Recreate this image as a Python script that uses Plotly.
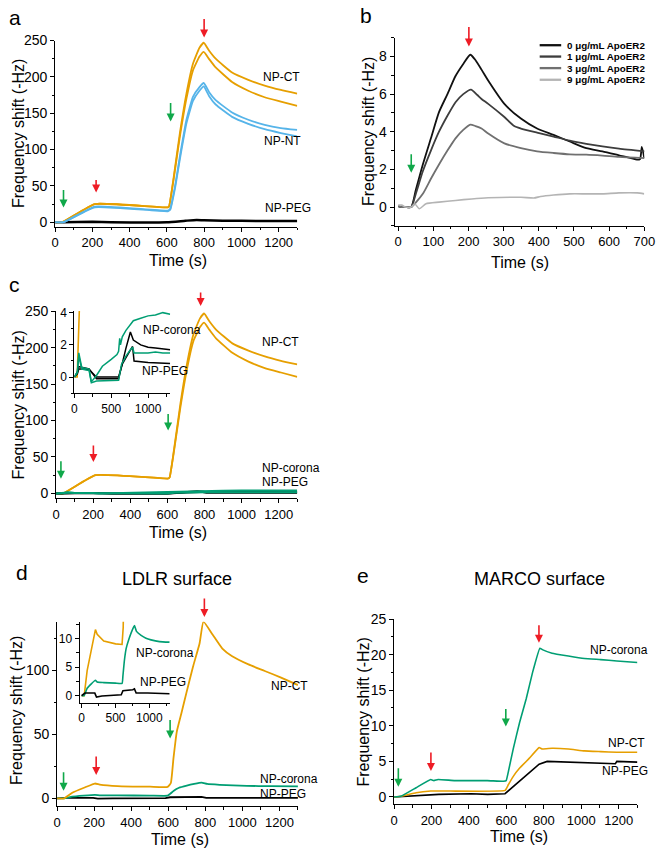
import plotly.graph_objects as go

W, H = 667, 852
FONT = "Liberation Sans, Arial, sans-serif"


def px(x):
    return x / W


def py(y):
    return 1 - y / H


ORANGE = "#E69F00"
GREEN = "#009E73"
BLUE = "#56B4E9"
ARROW_RED = "#ee1c25"
ARROW_GREEN = "#10a84a"

# ---------------- data ----------------
# Panel a / c : NP-CT (two replicates)
ct_time = [0, 38, 213, 605, 612, 635, 670, 705, 740, 775, 798, 827, 862, 950, 1037, 1125, 1212, 1300]
ct_rep1 = [0, 0, 25, 20.5, 22, 59, 123, 177, 218, 240, 247, 236, 225, 206, 196, 188, 182, 177]
ct_rep2 = [0, 0, 25, 20.5, 22, 57, 118, 170, 209, 228, 234.5, 224.5, 213, 193, 181, 172, 166, 160]
# Panel a : NP-NT (two replicates)
nt_time = [0, 45, 213, 605, 618, 644, 670, 705, 740, 775, 798, 827, 862, 950, 1037, 1125, 1212, 1300]
nt_rep1 = [0, 0, 21.5, 16, 18.6, 50, 91, 141, 172.6, 186, 191.6, 179, 168, 151, 141, 134, 129.5, 127]
nt_rep2 = [0, 0, 20.5, 15, 17, 47, 87, 136, 167, 181, 187, 173.5, 162, 145, 135.4, 128, 122.7, 118]
# Panel a : NP-PEG
peg_a_time = [0, 40, 200, 300, 600, 700, 760, 800, 900, 1000, 1300]
peg_a = [0, 0, 0.5, 0, 0, 2, 3, 2.5, 2, 1.8, 1.5]

# Panel b : ApoER2 concentrations
b_t0 = [0, 10, 20, 37, 50, 70, 93, 116, 140, 163, 185, 205, 220, 237, 260, 302, 349, 395, 442, 488, 535, 581, 628, 679, 688, 693, 700]
b_v0 = [0.05, 0, 0, 0, 0.9, 2.26, 3.65, 5.04, 6.0, 6.96, 7.6, 8.09, 7.8, 7.3, 6.6, 5.48, 4.7, 4.17, 3.83, 3.48, 3.13, 2.96, 2.75, 2.52, 2.55, 3.2, 2.6]
b_t1 = [0, 10, 20, 37, 50, 70, 93, 116, 140, 163, 185, 207, 225, 237, 256, 302, 330, 349, 395, 442, 488, 535, 581, 628, 702]
b_v1 = [0.05, 0, 0, 0, 0.7, 1.9, 3.0, 4.0, 4.85, 5.57, 6.0, 6.24, 5.95, 5.74, 5.48, 4.78, 4.3, 4.17, 3.95, 3.74, 3.53, 3.36, 3.22, 3.1, 2.96]
b_t3 = [0, 10, 20, 37, 51, 70, 93, 116, 140, 163, 185, 205, 220, 237, 256, 302, 349, 395, 442, 488, 535, 581, 628, 702]
b_v3 = [0.05, 0, 0, 0, 0.26, 0.7, 1.5, 2.26, 3.0, 3.65, 4.1, 4.38, 4.3, 4.17, 3.9, 3.38, 3.13, 2.96, 2.87, 2.8, 2.78, 2.73, 2.66, 2.6]
b_t9 = [0, 10, 20, 37, 47, 60, 79, 116, 163, 209, 256, 349, 386, 405, 442, 488, 535, 581, 628, 680, 700]
b_v9 = [0.1, 0.1, 0, 0, 0.17, -0.09, 0.17, 0.26, 0.35, 0.43, 0.49, 0.52, 0.48, 0.56, 0.64, 0.7, 0.7, 0.7, 0.75, 0.75, 0.7]
b_names = ["0 μg/mL ApoER2", "1 μg/mL ApoER2", "3 μg/mL ApoER2", "9 μg/mL ApoER2"]
b_colors = ["#111111", "#3d3d3d", "#707070", "#b4b4b4"]

# Panel c : NP-corona and NP-PEG (two replicates each)
cor_c_t1 = [0, 40, 60, 100, 200, 230, 300, 380, 500, 578, 600, 615, 625, 650, 700, 760, 800, 900, 1000, 1100, 1200, 1300]
cor_c_v1 = [0, 0.3, 1.5, 0.6, 0.5, -0.3, 0.1, 0.67, 1.1, 1.4, 1.6, 2.4, 2.0, 2.5, 2.9, 3.3, 3.5, 3.65, 3.8, 3.85, 4.0, 3.9]
cor_c_t2 = [0, 40, 60, 100, 200, 230, 300, 500, 600, 640, 700, 760, 790, 810, 900, 1000, 1100, 1200, 1300]
cor_c_v2 = [0, 0.3, 1.3, 0.5, 0.4, -0.35, -0.25, -0.2, -0.2, 0.8, 1.3, 1.7, 1.85, 1.5, 1.5, 1.5, 1.55, 1.5, 1.5]
peg_c_t1 = [0, 40, 60, 100, 200, 250, 300, 600, 650, 700, 760, 800, 900, 1000, 1100, 1200, 1300]
peg_c_v1 = [0, 0.3, 0.65, 0.6, 0.5, 0.2, -0.1, -0.1, 0.9, 1.8, 2.8, 2.3, 2.0, 1.85, 1.8, 1.75, 1.7]
peg_c_t2 = [0, 40, 60, 100, 200, 250, 300, 600, 650, 700, 780, 790, 810, 900, 1000, 1300]
peg_c_v2 = [0, 0.2, 0.5, 0.5, 0.45, 0.2, 0, 0, 0.8, 1.2, 1.8, 1.9, 1.0, 0.95, 0.9, 0.85]

# Panel d : LDLR surface
ct_d_t = [0, 38, 82, 152, 204, 230, 327, 502, 597, 614, 628, 646, 672, 699, 734, 769, 790, 839, 892, 945, 1033, 1121, 1209, 1300]
ct_d_v = [0, 0, 4.4, 8.7, 11.6, 10.8, 9.6, 9.1, 9.0, 12, 31, 52, 67, 83, 103, 121, 138, 128, 117, 111, 104.6, 99.5, 94.3, 88.5]
cor_d_t = [0, 38, 82, 204, 230, 327, 500, 597, 610, 630, 658, 700, 740, 780, 810, 878, 950, 1024, 1150, 1300]
cor_d_v = [0, 0, 1.3, 2.7, 2.4, 2.3, 2.2, 2.15, 3.5, 6.0, 8.3, 10.0, 11.3, 12.3, 11.3, 10.6, 10.1, 9.8, 9.5, 9.4]
peg_d_t = [0, 49, 195, 220, 300, 585, 610, 700, 756, 780, 805, 976, 1150, 1300]
peg_d_v = [0, 0.46, 0.46, -0.23, -0.05, 0.17, 0.87, 0.95, 1.04, 1.2, 0.46, 0.46, 0.4, 0.35]

# Panel e : MARCO surface
cor_e_t = [0, 40, 118, 196, 213, 235, 325, 498, 585, 599, 611, 637, 671, 706, 740, 779, 792, 844, 931, 1017, 1104, 1190, 1300]
cor_e_v = [0, 0.14, 1.3, 2.45, 2.3, 2.45, 2.3, 2.3, 2.2, 2.3, 3.6, 6.8, 10.5, 13.8, 17.5, 20.9, 20.7, 20.2, 19.8, 19.45, 19.3, 19.1, 18.9]
ct_e_t = [0, 40, 118, 196, 300, 593, 611, 637, 671, 723, 775, 792, 844, 931, 1017, 1104, 1190, 1300]
ct_e_v = [0, 0.1, 0.6, 0.83, 0.83, 0.92, 1.75, 2.9, 4.06, 5.45, 6.93, 6.74, 6.84, 6.74, 6.47, 6.37, 6.28, 6.28]
peg_e_t = [0, 118, 204, 239, 412, 500, 593, 619, 671, 723, 775, 818, 931, 1017, 1104, 1182, 1190, 1300]
peg_e_v = [0, 0.14, 0.23, 0.37, 0.46, 0.37, 0.46, 1.06, 2.2, 3.37, 4.6, 5.0, 4.9, 4.76, 4.67, 4.67, 5.0, 4.9]

# ---------------- figure ----------------
fig = go.Figure()


def line(x, y, color, width, ax, smooth=0.0):
    ln = dict(color=color, width=width)
    if smooth:
        ln.update(shape="spline", smoothing=smooth)
    fig.add_trace(go.Scatter(
        x=x, y=y, mode="lines", line=ln,
        xaxis="x" + ax, yaxis="y" + ax, showlegend=False,
        hoverinfo="skip"))


# a
line(peg_a_time, peg_a, "black", 2.5, "", 0.5)
line(ct_time, ct_rep1, ORANGE, 1.8, "", 0.4)
line(ct_time, ct_rep2, ORANGE, 1.8, "", 0.4)
line(nt_time, nt_rep1, BLUE, 1.8, "", 0.4)
line(nt_time, nt_rep2, BLUE, 1.8, "", 0.4)

# b
for t, v, c, w in zip([b_t0, b_t1, b_t3, b_t9], [b_v0, b_v1, b_v3, b_v9], b_colors, [1.8, 1.8, 1.8, 1.6]):
    line(t, v, c, w, "2", 0.6)

# c main
line(ct_time, ct_rep1, ORANGE, 1.8, "3", 0.4)
line(ct_time, ct_rep2, ORANGE, 1.8, "3", 0.4)
line(peg_c_t1, peg_c_v1, "black", 2, "3")
line(peg_c_t2, peg_c_v2, "black", 2, "3")
line(cor_c_t1, cor_c_v1, GREEN, 2, "3")
line(cor_c_t2, cor_c_v2, GREEN, 2, "3")
# c inset
line(ct_time, ct_rep1, ORANGE, 1.6, "4")
line(peg_c_t1, peg_c_v1, "black", 1.5, "4")
line(peg_c_t2, peg_c_v2, "black", 1.5, "4")
line(cor_c_t1, cor_c_v1, GREEN, 1.5, "4")
line(cor_c_t2, cor_c_v2, GREEN, 1.5, "4")

# d main
line(peg_d_t, peg_d_v, "black", 1.8, "5")
line(cor_d_t, cor_d_v, GREEN, 1.8, "5", 0.4)
line(ct_d_t, ct_d_v, ORANGE, 1.8, "5", 0.4)
# d inset
line(ct_d_t, ct_d_v, ORANGE, 1.6, "6")
line(cor_d_t, cor_d_v, GREEN, 1.6, "6", 0.4)
line(peg_d_t, peg_d_v, "black", 1.6, "6")

# e
line(peg_e_t, peg_e_v, "black", 1.6, "7")
line(ct_e_t, ct_e_v, ORANGE, 1.6, "7", 0.3)
line(cor_e_t, cor_e_v, GREEN, 1.6, "7", 0.3)


def axis(domain, rng, dtick, minor, anchor, size=13):
    return dict(
        domain=domain, range=rng, anchor=anchor, dtick=dtick, tick0=0,
        showline=True, linecolor="black", linewidth=1, mirror=False,
        ticks="outside", ticklen=4, tickwidth=1, tickcolor="black",
        showgrid=False, zeroline=False,
        tickfont=dict(family=FONT, size=size, color="black"),
        minor=dict(dtick=minor, tick0=0, ticks="outside", ticklen=2.5,
                   tickwidth=1, tickcolor="black", showgrid=False),
    )


layout = dict(
    width=W, height=H, margin=dict(l=0, r=0, t=0, b=0),
    paper_bgcolor="white", plot_bgcolor="rgba(0,0,0,0)",
    font=dict(family=FONT, color="black"),
    showlegend=False,
    xaxis=axis([px(52.3), px(300)], [0, 1300], 200, 100, "y"),
    yaxis=axis([py(221.4), py(33)], [-6, 250], 50, 25, "x", 14),
    xaxis2=axis([px(399.7), px(655)], [-10, 700], 100, 50, "y2"),
    yaxis2=axis([py(220.7), py(30)], [-1, 9], 2, 1, "x2", 14),
    xaxis3=axis([px(53.3), px(300)], [0, 1300], 200, 100, "y3"),
    yaxis3=axis([py(496.9), py(307.3)], [-7, 250], 50, 25, "x3", 14),
    xaxis4=axis([px(72), px(170)], [0, 1300], 500, 250, "y4", 12),
    yaxis4=axis([py(390.2), py(307)], [-1, 4.1], 2, 1, "x4", 12),
    xaxis5=axis([px(54.3), px(300.7)], [0, 1300], 200, 100, "y5"),
    yaxis5=axis([py(808.5), py(621.7)], [-6, 138], 50, 25, "x5", 14),
    xaxis6=axis([px(77.3), px(169.5)], [-30, 1300], 500, 250, "y6", 12),
    yaxis6=axis([py(703.6), py(621.7)], [-1.2, 13], 5, 2.5, "x6", 12),
    xaxis7=axis([px(399), px(648)], [0, 1300], 200, 100, "y7"),
    yaxis7=axis([py(806.5), py(619)], [-1, 25], 5, 2.5, "x7", 14),
)
fig.update_layout(**layout)

ann = []
shapes = []


def text(s, x, y, size=12, xanchor="left", angle=0):
    ann.append(dict(text=s, x=px(x), y=py(y), xref="paper", yref="paper",
                    xanchor=xanchor, yanchor="middle", showarrow=False,
                    textangle=angle,
                    font=dict(family=FONT, size=size, color="black")))


def arrow(ax_id, t, tip_y, length, color):
    ann.append(dict(text="", x=t, y=py(tip_y), xref="x" + ax_id, yref="paper",
                    showarrow=True, ax=0, ay=-length, arrowhead=2,
                    arrowsize=1.0, arrowwidth=1.6, arrowcolor=color,
                    standoff=0))


# legend of panel b (key lines + labels)
for i, (name, col) in enumerate(zip(b_names, b_colors)):
    yy = [37.7, 49.2, 60.9, 72.7][i]
    shapes.append(dict(type="line", xref="paper", yref="paper",
                       x0=px(548), x1=px(570), y0=py(yy), y1=py(yy),
                       line=dict(color=col, width=2.3)))
    text("<b>" + name + "</b>", 574, yy, 9.8)

# panel letters & titles
text("a", 3, 10, 21)
text("b", 362, 8, 21)
text("c", 3, 280, 21)
text("d", 10, 572, 21)
text("e", 359, 575, 21)
text("LDLR surface", 177, 578, 18, "center")
text("MARCO surface", 548, 578, 18, "center")

# axis titles
for cx, cy in [(178, 256), (528, 258), (178, 531), (180, 842), (527, 839)]:
    text("Time (s)", cx, cy, 16, "center")
for cx, cy in [(15, 127), (373, 125), (15, 402), (13.5, 712), (368, 713)]:
    text("Frequency shift (-Hz)", cx, cy, 16, "center", -90)

# curve labels
text("NP-CT", 263, 70)
text("NP-NT", 264, 135)
text("NP-PEG", 265, 203)
text("NP-CT", 262, 338)
text("NP-corona", 262, 466)
text("NP-PEG", 262, 480)
text("NP-corona", 140, 326)
text("NP-PEG", 139, 368)
text("NP-CT", 271, 687)
text("NP-corona", 260, 781)
text("NP-PEG", 260, 796)
text("NP-corona", 133, 653)
text("NP-PEG", 137, 683)
text("NP-corona", 597, 650)
text("NP-CT", 616, 745)
text("NP-PEG", 610, 773)

# injection arrows
arrow("", 45, 202, 19, ARROW_GREEN)
arrow("", 620, 115, 20, ARROW_GREEN)
arrow("", 220, 187, 14, ARROW_RED)
arrow("", 800, 30, 20, ARROW_RED)
arrow("2", 37, 167, 20, ARROW_GREEN)
arrow("2", 201, 39, 21, ARROW_RED)
arrow("3", 26, 477, 19, ARROW_GREEN)
arrow("3", 201, 460, 18, ARROW_RED)
arrow("3", 604, 428, 18, ARROW_GREEN)
arrow("3", 779, 302, 15, ARROW_RED)
arrow("5", 35, 793, 20, ARROW_GREEN)
arrow("5", 211, 777, 20, ARROW_RED)
arrow("5", 610, 740, 20, ARROW_GREEN)
arrow("5", 795, 617, 20, ARROW_RED)
arrow("7", 23, 789, 20, ARROW_GREEN)
arrow("7", 197, 773, 20, ARROW_RED)
arrow("7", 597, 728, 19, ARROW_GREEN)
arrow("7", 774, 643, 19, ARROW_RED)

fig.update_layout(annotations=ann, shapes=shapes)
fig.write_html(
    "out.html",
    config={"displayModeBar": False},
    post_script="document.body.style.margin='0px';document.body.style.overflow='hidden';",
)
